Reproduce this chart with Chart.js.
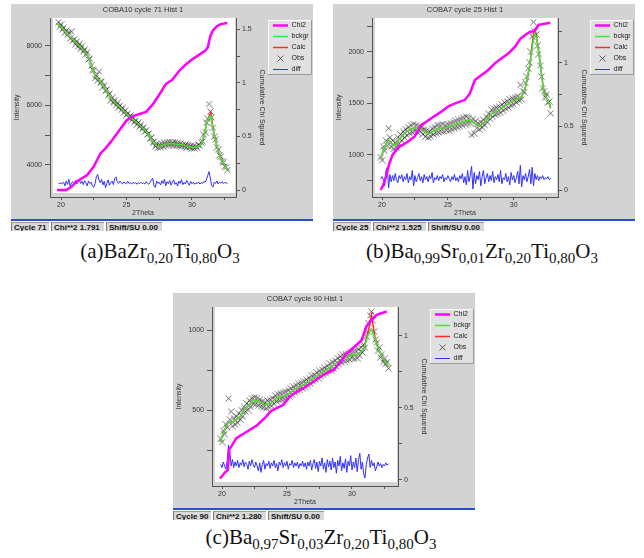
<!DOCTYPE html>
<html><head><meta charset="utf-8">
<script src="https://cdn.jsdelivr.net/npm/chart.js@4.4.0/dist/chart.umd.min.js"></script>
<style>
body{margin:0;background:#fff;width:644px;height:558px;position:relative;overflow:hidden;font-family:"Liberation Sans",Arial,sans-serif}
.panel{position:absolute;background:#d3d3d3;width:302px;height:215px}
.panel canvas{display:block}
.status{position:absolute;width:302px;height:12px}
.status .bl{height:2px;background:#2a4ed0}
.status .row{display:flex;height:9px;margin-top:1px}
.status .c{font:bold 8px "Liberation Sans",Arial,sans-serif;line-height:9px;color:#111;background:#d9d9d9;border-left:1px solid #777;border-top:1px solid #999;padding:0 2px;margin-right:2px;box-sizing:border-box;height:9px;white-space:nowrap;overflow:hidden}
.cap{position:absolute;width:340px;text-align:center;font-family:"Liberation Serif","Times New Roman",serif;font-size:21px;line-height:20px;white-space:nowrap;color:#111}
.cap sub{font-size:15px;vertical-align:-5px;line-height:0}
</style></head>
<body>
<div class="panel" style="left:11px;top:4px"><canvas id="ca" width="302" height="215"></canvas></div>
<div class="panel" style="left:333px;top:4px"><canvas id="cb" width="302" height="215"></canvas></div>
<div class="panel" style="left:173px;top:293px"><canvas id="cc" width="302" height="215"></canvas></div>

<div class="status" style="left:11px;top:219px"><div class="bl"></div><div class="row"><div class="c" style="width:38px">Cycle 71</div><div class="c" style="width:53px">Chi**2 1.791</div><div class="c" style="width:56px">Shift/SU 0.00</div></div></div>
<div class="status" style="left:333px;top:219px"><div class="bl"></div><div class="row"><div class="c" style="width:38px">Cycle 25</div><div class="c" style="width:53px">Chi**2 1.525</div><div class="c" style="width:56px">Shift/SU 0.00</div></div></div>
<div class="status" style="left:173px;top:508px"><div class="bl"></div><div class="row"><div class="c" style="width:38px">Cycle 90</div><div class="c" style="width:53px">Chi**2 1.280</div><div class="c" style="width:56px">Shift/SU 0.00</div></div></div>

<div class="cap" style="left:-10px;top:241px">(a)BaZr<sub>0,20</sub>Ti<sub>0,80</sub>O<sub>3</sub></div>
<div class="cap" style="left:312px;top:241px">(b)Ba<sub>0,99</sub>Sr<sub>0,01</sub>Zr<sub>0,20</sub>Ti<sub>0,80</sub>O<sub>3</sub></div>
<div class="cap" style="left:151px;top:527px">(c)Ba<sub>0,97</sub>Sr<sub>0,03</sub>Zr<sub>0,20</sub>Ti<sub>0,80</sub>O<sub>3</sub></div>

<script>
// ---------- shared ticks ----------
const xTicks = [20, 22.5, 25, 27.5, 30, 32.5];
const xTickLabels = [20, 25, 30];
const obsStep = 0.1;

// ---------- panel (a) COBA10 cycle 71 ----------
const aTitle = 'COBA10 cycle 71 Hist 1';
const aObsStart = 19.8;
const aObs = [
8800,8650,8720,8560,8610,8450,8520,8380,8470,8250,
8480,8180,8230,8060,8150,7980,8070,7900,7990,7820,
7880,7720,7790,7550,7580,7330,7200,7180,6920,7010,
6850,7140,6760,6820,6620,6680,6490,6540,6350,6400,
6180,6260,6090,6180,6010,6090,5930,6000,5850,5920,
5760,5830,5680,5740,5590,5660,5510,5580,5440,5500,
5370,5430,5290,5350,5210,5270,5120,5170,5030,5060,
4890,4920,4740,4800,4620,4700,4580,4690,4600,4710,
4620,4740,4660,4760,4670,4770,4680,4750,4660,4770,
4650,4740,4640,4720,4630,4700,4610,4690,4590,4670,
4580,4650,4560,4640,4560,4630,4580,4680,4640,4760,
4800,5020,5100,5420,5560,6050,5800,5600,5250,4950,
4850,4600,4520,4330,4290,4110,4080,3950,3920,3830];
const aDiff = [
3390,3380,3400,3370,3420,3300,3460,3350,3520,3280,
3400,3440,3330,3480,3360,3420,3500,3380,3450,3340,
3470,3400,3300,3460,3380,3420,3290,3250,3380,3600,
3680,3500,3400,3520,3330,3450,3240,3380,3500,3320,
3420,3460,3340,3550,3600,3420,3380,3460,3400,3360,
3430,3390,3370,3450,3380,3400,3360,3420,3380,3410,
3350,3400,3380,3420,3370,3400,3360,3440,3380,3350,
3420,3500,3560,3300,3250,3460,3380,3420,3330,3470,
3380,3520,3300,3440,3370,3480,3320,3420,3500,3350,
3410,3290,3460,3380,3510,3340,3420,3360,3480,3390,
3320,3450,3370,3420,3350,3400,3380,3430,3360,3410,
3380,3440,3420,3500,3650,3780,3560,3300,3260,3420,
3380,3460,3360,3420,3390,3440,3370,3410,3400,3380];
const aBgTheta = [19.8,20.2,20.6,21.0,21.4,21.8,22.0,22.3,22.6,23.0,23.4,23.8,24.2,24.6,25.0,25.4,25.8,26.2,26.6,27.0,27.3,27.6,28.0,28.4,28.8,29.2,29.6,30.0,30.4,30.7,30.9,31.1,31.3,31.45,31.6,31.8,32.0,32.2,32.4,32.6,32.75];
const aBg   = [8750,8550,8350,8180,8000,7820,7720,7400,7000,6800,6550,6250,6060,5900,5720,5560,5420,5260,5080,4800,4650,4640,4700,4720,4700,4680,4640,4600,4600,4700,4950,5350,5600,5650,5200,4800,4480,4250,4050,3900,3820];
const aCalc = [8750,8550,8350,8180,8000,7820,7720,7400,7000,6800,6550,6250,6060,5900,5720,5560,5420,5260,5080,4800,4650,4640,4700,4720,4700,4680,4640,4600,4600,4700,4950,5350,5640,5760,5260,4800,4480,4250,4050,3900,3820];
const aChiTheta = [19.7,20.4,20.8,21.2,21.6,22.0,22.5,23.0,23.4,23.8,24.4,25.0,25.5,26.0,26.5,27.0,27.5,28.0,28.5,29.0,29.5,30.0,30.5,31.0,31.2,31.4,31.6,31.9,32.2,32.7];
const aChi = [0,0,0.03,0.08,0.11,0.14,0.22,0.34,0.39,0.45,0.55,0.65,0.69,0.71,0.73,0.80,0.89,0.99,1.03,1.11,1.17,1.22,1.26,1.30,1.33,1.44,1.49,1.53,1.55,1.56];
const aYTicks = [4000,5000,6000,7000,8000];
const aYLabels = [4000,6000,8000];
const aY2Ticks = [0,0.25,0.5,0.75,1,1.25,1.5];
const aY2Labels = [0,0.5,1,1.5];

// ---------- panel (b) COBA7 cycle 25 ----------
const bTitle = 'COBA7 cycle 25 Hist 1';
const bObsStart = 19.9;
const bObs = [
980,950,1080,1040,1140,1090,1260,1170,1080,1140,
1060,1120,1070,1170,1110,1200,1140,1230,1170,1250,
1190,1270,1210,1290,1220,1300,1230,1290,1220,1280,
1230,1270,1200,1250,1180,1240,1170,1230,1180,1260,
1200,1270,1210,1290,1220,1290,1230,1300,1230,1290,
1240,1300,1240,1310,1250,1320,1260,1330,1270,1340,
1280,1350,1290,1360,1300,1370,1310,1360,1310,1194,
1350,1210,1330,1260,1310,1250,1320,1270,1340,1290,
1370,1320,1400,1350,1440,1370,1450,1390,1460,1400,
1470,1410,1490,1430,1510,1450,1520,1460,1540,1480,
1550,1490,1560,1510,1570,1530,1680,1540,1620,1610,
1700,1760,1840,1900,2000,2150,2290,2200,2170,2060,
1980,1870,1760,1650,1620,1560,1590,1510,1520,1405];
const bDiff = [
770,790,760,700,850,880,680,810,740,800,
750,820,760,730,800,770,810,740,790,760,
820,730,790,760,850,700,800,740,780,820,
750,790,730,810,760,790,740,800,770,830,
730,780,760,800,750,790,770,810,740,780,
760,800,770,740,790,760,810,750,780,740,
800,770,820,730,790,710,850,740,800,890,
670,830,720,800,760,840,700,790,850,720,
780,820,740,800,750,840,730,790,760,810,
740,850,720,780,760,820,740,790,710,830,
760,800,730,780,840,720,900,690,800,760,
820,740,790,860,720,880,700,820,760,800,
750,790,770,800,760,780,770,790,760,775];
const bBgTheta = [19.9,20.2,20.5,20.8,21.0,21.3,21.7,22.1,22.5,22.9,23.2,23.5,23.8,24.2,24.6,25.0,25.5,25.9,26.2,26.7,27.0,27.4,27.8,28.3,28.9,29.3,29.9,30.3,30.6,30.9,31.2,31.45,31.6,31.75,31.9,32.1,32.3,32.6,32.8];
const bBg   = [968,1080,1146,1100,1090,1150,1210,1245,1262,1258,1230,1205,1225,1255,1262,1270,1290,1310,1323,1340,1310,1280,1320,1400,1437,1476,1518,1545,1566,1663,1857,2084,2180,2120,2000,1793,1599,1534,1453];
const bCalc = [968,1080,1146,1100,1090,1150,1210,1245,1262,1258,1230,1205,1225,1255,1262,1270,1290,1310,1323,1340,1310,1280,1320,1400,1437,1476,1518,1545,1566,1663,1857,2130,2210,2140,2000,1793,1599,1534,1453];
const bChiTheta = [19.9,20.1,20.3,20.56,20.8,21.3,21.96,22.47,22.98,23.74,24.5,25.0,25.5,26.3,26.67,27.05,27.56,28.07,28.57,29.08,29.6,30.1,30.5,30.87,31.25,31.5,31.7,31.88,32.77];
const bChi = [0,0.04,0.105,0.21,0.276,0.34,0.38,0.42,0.51,0.565,0.617,0.656,0.68,0.71,0.76,0.866,0.906,0.945,0.997,1.037,1.076,1.128,1.19,1.22,1.246,1.25,1.27,1.30,1.317];
const bYTicks = [750,1000,1250,1500,1750,2000,2250];
const bYLabels = [1000,1500,2000];
const bY2Ticks = [0,0.25,0.5,0.75,1,1.25];
const bY2Labels = [0,0.5,1];

// ---------- panel (c) COBA7 cycle 90 ----------
const cTitle = 'COBA7 cycle 90 Hist 1';
const cObsStart = 19.9;
const cObs = [
320,300,370,350,410,390,573,440,490,400,
450,410,460,420,480,440,500,460,520,490,
540,500,560,520,575,540,580,535,575,530,
565,520,555,515,550,510,560,520,565,525,
575,540,590,555,600,560,605,565,610,570,
615,575,625,585,635,595,645,610,655,620,
665,625,670,635,680,645,690,655,700,665,
715,680,720,690,735,700,745,710,755,720,
765,730,775,745,790,750,800,760,810,770,
825,785,835,795,845,805,850,810,855,815,
860,825,865,820,870,825,880,840,890,860,
910,890,960,990,1040,1090,1115,1060,990,940,
920,870,890,830,850,800,820,790,800,760];
const cDiff = [
160,140,175,150,130,185,280,240,150,190,
140,175,150,185,140,170,155,190,145,175,
160,130,180,150,190,160,140,175,150,120,
170,110,160,185,130,165,150,180,135,170,
150,185,140,165,120,175,155,190,140,170,
150,180,130,165,155,185,140,170,150,175,
135,165,150,180,145,170,130,175,150,185,
125,165,190,135,175,115,180,150,200,130,
170,110,190,145,180,125,200,140,175,105,
185,150,210,120,170,135,195,110,180,150,
215,125,175,140,200,115,190,230,130,175,
100,75,160,200,225,140,185,150,170,120,
145,175,150,165,140,160,150,170,155,165];
const cBgTheta = [19.85,20.2,20.5,20.7,21.1,21.4,21.8,22.1,22.4,22.8,23.3,23.7,24.2,25.0,25.7,26.26,27.0,27.8,28.57,29.3,30.0,30.35,30.87,31.25,31.5,31.76,32.0,32.4,32.8];
const cBg   = [302,375,427,417,440,460,510,531,562,555,531,542,573,594,635,656,698,740,781,823,844,844,875,969,1005,948,885,823,771];
const cCalc = [302,375,427,417,440,460,510,531,562,555,531,542,573,594,635,656,698,740,781,823,844,844,875,990,1094,960,885,823,771];
const cChiTheta = [19.85,20.2,20.45,20.55,20.7,21.1,21.9,22.7,23.4,23.7,24.2,24.7,25.2,25.7,26.26,27.0,27.8,28.6,29.1,29.6,30.2,30.74,31.1,31.38,31.9,32.67];
const cChi = [0.01,0.05,0.07,0.21,0.23,0.29,0.335,0.38,0.44,0.474,0.498,0.52,0.578,0.61,0.637,0.68,0.73,0.764,0.82,0.88,0.925,0.97,1.065,1.10,1.146,1.17];
const cYTicks = [250,500,750,1000];
const cYLabels = [500,1000];
const cY2Ticks = [0,0.25,0.5,0.75,1];
const cY2Labels = [0,0.5,1];

// ---------- helpers ----------
Chart.defaults.font.family = '"Liberation Sans", Arial, sans-serif';
Chart.defaults.font.size = 7;
Chart.defaults.color = '#333';

function makeMark(size, color, lw) {
  const c = document.createElement('canvas');
  c.width = size; c.height = size;
  const g = c.getContext('2d'); g.strokeStyle = color; g.lineWidth = lw;
  g.beginPath(); g.moveTo(0.5, 0.5); g.lineTo(size - 0.5, size - 0.5); g.moveTo(size - 0.5, 0.5); g.lineTo(0.5, size - 0.5); g.stroke();
  return c;
}
const xMark = makeMark(7, 'rgba(15,15,15,0.62)', 1);

const pairPts = (th, v) => v.map((y, i) => ({x: th[i], y}));
const gridPts = (start, v) => v.map((y, i) => ({x: Math.round((start + i * obsStep) * 100) / 100, y}));

const deco = {
  id: 'deco',
  beforeDraw(chart) {
    const {ctx, chartArea: ca, legend: lg} = chart;
    ctx.save();
    ctx.fillStyle = '#fff';
    ctx.fillRect(ca.left + 3, ca.top, ca.width - 4, ca.height - 4);
    const x = lg.left - 1, y = ca.top + 2, w = lg.width, h = 55;
    ctx.fillStyle = '#e0e0e0'; ctx.fillRect(x, y, w, h);
    ctx.lineWidth = 1;
    ctx.strokeStyle = '#fafafa'; ctx.beginPath(); ctx.moveTo(x + 0.5, y + h); ctx.lineTo(x + 0.5, y + 0.5); ctx.lineTo(x + w, y + 0.5); ctx.stroke();
    ctx.strokeStyle = '#9a9a9a'; ctx.beginPath(); ctx.moveTo(x + w - 0.5, y); ctx.lineTo(x + w - 0.5, y + h - 0.5); ctx.lineTo(x, y + h - 0.5); ctx.stroke();
    ctx.restore();
  }
};

function yScale(pos, min, max, ticks, labels, title, width, tickLen, pad, titlePad) {
  return {
    type: 'linear', position: pos, min, max,
    afterBuildTicks: s => { s.ticks = ticks.map(v => ({value: v})); },
    afterFit: s => { s.width = width; },
    ticks: {autoSkip: false, padding: pad, color: '#333', callback: v => labels.includes(v) ? String(v) : ''},
    grid: {drawOnChartArea: false, drawTicks: true, tickLength: tickLen, color: '#555'},
    border: {display: true, color: '#555', width: 1},
    title: {display: true, text: title, color: '#333', padding: {top: titlePad, bottom: 0}}
  };
}

function makeChart(id, p) {
  const datasets = [
    {label: 'Chi2', data: pairPts(p.chiTheta, p.chi), yAxisID: 'y2', borderColor: '#ff00ff', backgroundColor: '#ff00ff', borderWidth: 2.5, pointRadius: 0, pointStyle: 'line'},
    {label: 'bckgr', data: pairPts(p.bgTheta, p.bg), yAxisID: 'y', borderColor: '#3ee63e', backgroundColor: '#3ee63e', borderWidth: 1.5, pointRadius: 0, pointStyle: 'line'},
    {label: 'Calc', data: pairPts(p.bgTheta, p.calc), yAxisID: 'y', borderColor: '#ff2a2a', backgroundColor: '#ff2a2a', borderWidth: 1.5, pointRadius: 0, pointStyle: 'line'},
    {label: 'Obs', data: gridPts(p.obsStart, p.obs), yAxisID: 'y', showLine: false, pointStyle: xMark, pointRadius: 3, borderColor: '#333', backgroundColor: '#333'},
    {label: 'diff', data: gridPts(p.obsStart, p.diff), yAxisID: 'y', borderColor: '#3030ff', backgroundColor: '#3030ff', borderWidth: 1, pointRadius: 0, pointStyle: 'line'}
  ];
  return new Chart(document.getElementById(id), {
    type: 'line',
    data: {datasets},
    options: {
      responsive: false, animation: false, devicePixelRatio: 1, events: [],
      layout: {padding: 0, autoPadding: false},
      elements: {line: {tension: 0}},
      plugins: {
        tooltip: {enabled: false},
        title: {display: true, text: p.title, fullSize: false, color: '#333', font: {size: 7.5, weight: 'normal'}, padding: {top: 1.5, bottom: 3.5}},
        legend: {display: true, position: 'right', align: 'start', fullSize: false, maxWidth: 44,
          labels: {usePointStyle: true, pointStyleWidth: 15, boxHeight: 7, padding: 4, color: '#222', font: {size: 7}}}
      },
      scales: {
        x: {
          type: 'linear', position: 'bottom', min: p.xMin, max: p.xMax,
          afterBuildTicks: s => { s.ticks = xTicks.map(v => ({value: v})); },
          afterFit: s => { s.height = 22; },
          ticks: {autoSkip: false, maxRotation: 0, padding: 1, color: '#333', callback: v => xTickLabels.includes(v) ? String(v) : ''},
          grid: {drawOnChartArea: false, drawTicks: true, tickLength: 3, color: '#555'},
          border: {display: true, color: '#555', width: 1},
          title: {display: true, text: '2Theta', color: '#333', padding: {top: 0, bottom: 1.8}}
        },
        y: yScale('left', p.yMin, p.yMax, p.yTicks, p.yLabels, 'Intensity', 39, 5, 3, 1.8),
        y2: yScale('right', p.y2Min, p.y2Max, p.y2Ticks, p.y2Labels, 'Cumulative Chi Squared', 33, 4, 2, 2.8)
      }
    },
    plugins: [deco]
  });
}

makeChart('ca', {title: aTitle, obsStart: aObsStart, obs: aObs, diff: aDiff, bgTheta: aBgTheta, bg: aBg, calc: aCalc,
  chiTheta: aChiTheta, chi: aChi, xMin: 19.16, xMax: 33.36, yMin: 2924, yMax: 8941, y2Min: -0.065, y2Max: 1.607,
  yTicks: aYTicks, yLabels: aYLabels, y2Ticks: aY2Ticks, y2Labels: aY2Labels});
makeChart('cb', {title: bTitle, obsStart: bObsStart, obs: bObs, diff: bDiff, bgTheta: bBgTheta, bg: bBg, calc: bCalc,
  chiTheta: bChiTheta, chi: bChi, xMin: 19.24, xMax: 33.36, yMin: 592, yMax: 2330, y2Min: -0.055, y2Max: 1.354,
  yTicks: bYTicks, yLabels: bYLabels, y2Ticks: bY2Ticks, y2Labels: bY2Labels});
makeChart('cc', {title: cTitle, obsStart: cObsStart, obs: cObs, diff: cDiff, bgTheta: cBgTheta, bg: cBg, calc: cCalc,
  chiTheta: cChiTheta, chi: cChi, xMin: 19.23, xMax: 33.54, yMin: 25, yMax: 1144, y2Min: -0.042, y2Max: 1.201,
  yTicks: cYTicks, yLabels: cYLabels, y2Ticks: cY2Ticks, y2Labels: cY2Labels});
</script>
</body></html>
